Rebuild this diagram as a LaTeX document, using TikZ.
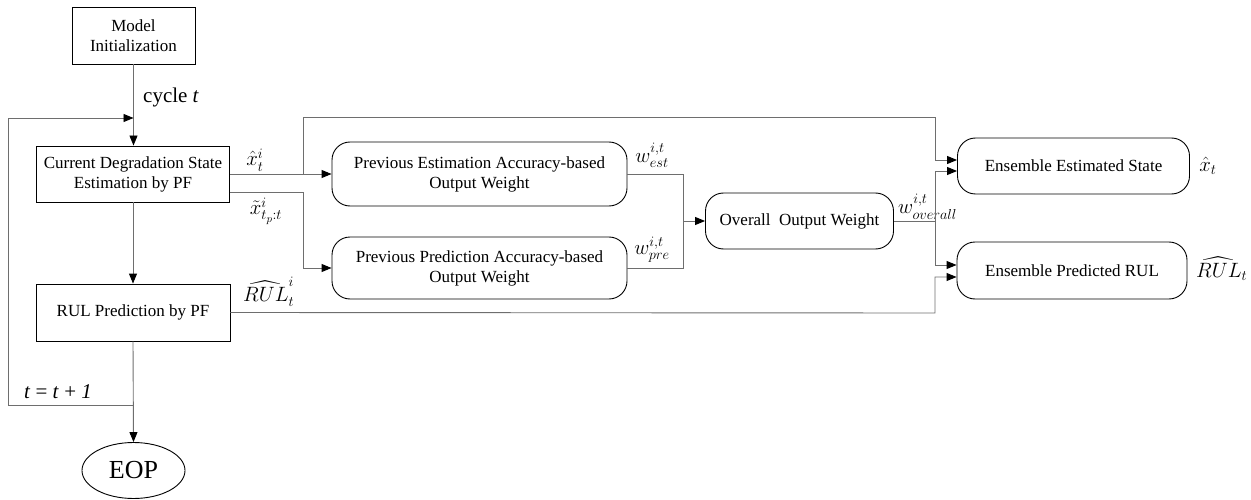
\documentclass[tikz,border=0pt]{standalone}
\usepackage{amsmath}
\usepackage{fontspec}
\setmainfont{Liberation Serif}
\usetikzlibrary{arrows.meta,shapes.geometric}
\definecolor{linec}{HTML}{6E6E6E}
\tikzset{
  box/.style={draw=black, line width=0.9pt, rectangle, align=center, inner sep=2pt,
    font=\fontsize{17}{20}\selectfont},
  rbox/.style={box, rounded corners=18pt},
  conn/.style={draw=linec, line width=0.9pt},
  arr/.style={conn, -{Triangle[length=10pt,width=8pt,color=black]}},
  lab/.style={font=\fontsize{21}{23}\selectfont, inner sep=0pt}
}
\begin{document}
\begin{tikzpicture}[x=1pt,y=-1pt]
\useasboundingbox (0,0) rectangle (1251,500);
% nodes
\node[box, minimum width=123pt, minimum height=57pt] (init) at (133.5,35.5) {Model\\Initialization};
\node[box, minimum width=193pt, minimum height=56pt] (cur) at (133,174) {Current Degradation State\\Estimation by PF};
\node[box, minimum width=194pt, minimum height=57pt] (rul) at (133,312.5) {RUL Prediction by PF};
\node[draw=black, line width=0.9pt, ellipse, minimum width=103pt, minimum height=56pt, inner sep=0pt,
  font=\fontsize{26}{28}\selectfont] (eop) at (133.5,470.5) {EOP};
\node[rbox, minimum width=295pt, minimum height=64pt] (pest) at (479.5,174) {Previous Estimation Accuracy-based\\Output Weight};
\node[rbox, minimum width=295pt, minimum height=62pt] (ppred) at (479.5,268) {Previous Prediction Accuracy-based\\Output Weight};
\node[rbox, minimum width=188pt, minimum height=56pt] (overall) at (799.5,221) {Overall~ Output Weight};
\node[rbox, minimum width=232pt, minimum height=56pt] (eest) at (1073.5,166) {Ensemble Estimated State};
\node[rbox, minimum width=230pt, minimum height=57pt] (erul) at (1072,270.5) {Ensemble Predicted RUL};
% labels
\node[lab, anchor=west] (lcycle) at (143,97) {cycle \textit{t}};
\node[lab] (lxhat) at (255,160) {$\hat{x}^{i}_{t}$};
\node[lab] (lxtil) at (266,211) {$\tilde{x}^{i}_{t_p:t}$};
\node[lab, anchor=west] (lrul) at (243,292) {$\widehat{RUL}^{i}_{t}$};
\node[lab] (lwest) at (652,155) {$w^{i,t}_{est}$};
\node[lab] (lwpre) at (652,250) {$w^{i,t}_{pre}$};
\node[lab, anchor=west] (lwov) at (898,207) {$w^{i,t}_{overall}$};
\node[lab] (lxt) at (1208,166) {$\hat{x}_{t}$};
\node[lab, anchor=west] (lrult) at (1196,269) {$\widehat{RUL}_{t}$};
\node[lab] (lloop) at (58,392) {\textit{t} = \textit{t} + \textit{1}};
% coordinates
\coordinate (loopA) at (133.5,405);
\coordinate (loopB) at (133.5,118);
\coordinate (sx) at (303,174);
\coordinate (sy) at (303,192);
\coordinate (we) at (683,174);
\coordinate (wm) at (683,221);
\coordinate (ov) at (935,221);
% vertical flow
\draw[arr] (init.south) -- (init.south |- cur.north);
\draw[arr] (cur.south) -- (rul.north);
\draw[arr] (rul.south) -- (eop.north);
\draw[arr] (loopA) -- ++(-125.5,0) |- (loopB);
% x hat
\draw[arr] (cur.east |- sx) -- (pest.west);
\draw[arr] (sx) -- (303,117) -| (935,160) -- (eest.west |- 0,160);
% x tilde
\draw[arr] (cur.east |- sy) -- (sy) |- (ppred.west);
% weights
\draw[conn] (pest.east) -- (we) |- (ppred.east);
\draw[arr] (wm) -- (overall.west);
\draw[conn] (overall.east) -- (ov);
\draw[arr] (ov) |- (eest.west |- 0,171);
\draw[arr] (ov) |- (erul.west |- 0,265);
% RUL
\draw[arr] (rul.east) -- (935,313) |- (erul.west |- 0,277);
\end{tikzpicture}
\end{document}
